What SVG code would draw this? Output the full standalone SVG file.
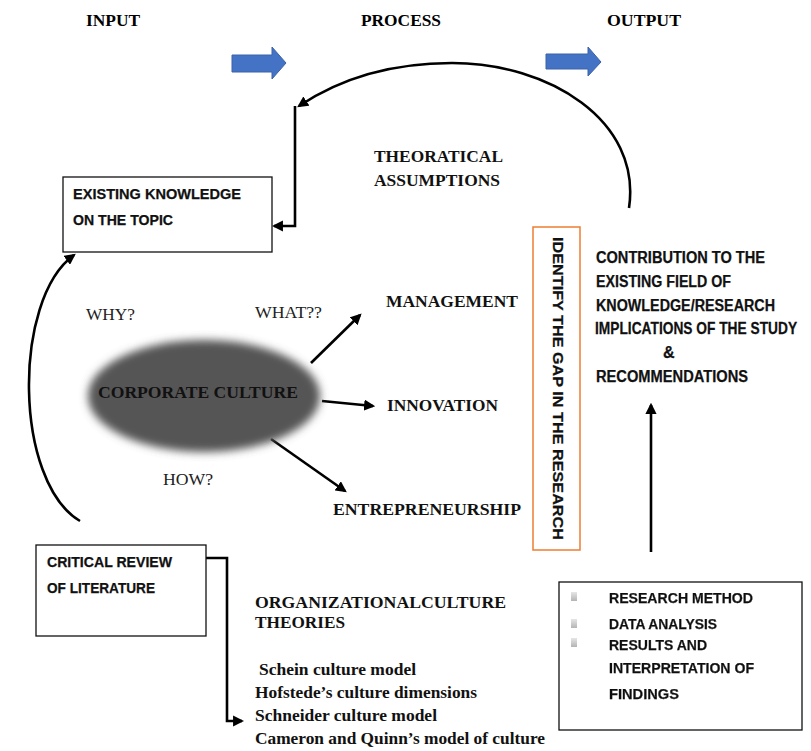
<svg xmlns="http://www.w3.org/2000/svg" width="811" height="751" viewBox="0 0 811 751">
  <style>
    .hdr { font-family: "Liberation Serif", "Times New Roman", serif; font-weight: bold; font-size: 16px; fill: #000; }
    .ser { font-family: "Liberation Serif", "Times New Roman", serif; font-weight: bold; font-size: 17px; fill: #111; }
    .q { font-family: "Liberation Serif", "Times New Roman", serif; font-size: 16px; fill: #222; }
    .san { font-family: "Liberation Sans", Arial, sans-serif; font-weight: bold; font-size: 15px; fill: #111; stroke: #111; stroke-width: 0.25; }
    .san2 { font-family: "Liberation Sans", Arial, sans-serif; font-weight: bold; font-size: 16px; fill: #111; stroke: #111; stroke-width: 0.25; }
    .box { fill: #fff; stroke: #111; stroke-width: 1.3; }
    .conn { fill: none; stroke: #000; stroke-width: 2.6; }
    .blue { fill: #4472C4; stroke: #3a62a8; stroke-width: 1; }
  </style>
  <defs>
    <marker id="ah" viewBox="0 0 10 10" refX="8" refY="5" markerWidth="4.3" markerHeight="4.3" orient="auto" markerUnits="strokeWidth">
      <path d="M0,0 L10,5 L0,10 z" fill="#000"/>
    </marker>
    <filter id="soft" x="-20%" y="-30%" width="140%" height="160%">
      <feGaussianBlur stdDeviation="4"/>
    </filter>
    <filter id="halo" x="-5%" y="-20%" width="110%" height="140%">
      <feGaussianBlur in="SourceAlpha" stdDeviation="0.7" result="b"/>
      <feFlood flood-color="#999"/>
      <feComposite in2="b" operator="in" result="s"/>
      <feMerge><feMergeNode in="s"/><feMergeNode in="SourceGraphic"/></feMerge>
    </filter>
    <linearGradient id="bul" x1="0" y1="0" x2="0" y2="1">
      <stop offset="0" stop-color="#e6e6e6"/>
      <stop offset="1" stop-color="#b4b4b4"/>
    </linearGradient>
  </defs>

  <!-- column headings -->
  <g id="headings">
    <text class="hdr" x="86" y="26" textLength="54" lengthAdjust="spacingAndGlyphs">INPUT</text>
    <text class="hdr" x="361" y="26" textLength="80" lengthAdjust="spacingAndGlyphs">PROCESS</text>
    <text class="hdr" x="607" y="26" textLength="74" lengthAdjust="spacingAndGlyphs">OUTPUT</text>
  </g>

  <!-- block arrows between the columns -->
  <g id="flow-arrows">
    <path class="blue" d="M232,55 H272 V47 L286,63 L272,79 V72 H232 z"/>
    <path class="blue" d="M546,54 H588 V47 L601,62 L588,76 V69 H546 z"/>
  </g>

  <!-- connectors -->
  <g id="connectors">
    <!-- feedback arc from the output back to existing knowledge -->
    <path class="conn" d="M629,208 C642,120 548,63 452,63 C385,63 335,82 299,106" marker-end="url(#ah)"/>
    <path class="conn" d="M295,106 V226 H274" marker-end="url(#ah)"/>
    <!-- literature review feeds existing knowledge -->
    <path class="conn" d="M80,521 C14,482 12,300 74,255" marker-end="url(#ah)"/>
    <!-- corporate culture outcomes -->
    <path class="conn" d="M311,363 L360,315" marker-end="url(#ah)"/>
    <path class="conn" d="M322,401 L373,406" marker-end="url(#ah)"/>
    <path class="conn" d="M271,439 L345,491" marker-end="url(#ah)"/>
    <!-- research steps up to the contribution -->
    <path class="conn" d="M651,552 V405" marker-end="url(#ah)"/>
    <!-- literature review to the theories list -->
    <path class="conn" d="M206,558 H227 V721 H242" marker-end="url(#ah)"/>
  </g>

  <!-- existing knowledge -->
  <g id="existing-knowledge">
    <rect class="box" x="63" y="177" width="209" height="75"/>
    <text class="san" x="73" y="199" textLength="168" lengthAdjust="spacingAndGlyphs">EXISTING KNOWLEDGE</text>
    <text class="san" x="73" y="225" textLength="100" lengthAdjust="spacingAndGlyphs">ON THE TOPIC</text>
  </g>

  <!-- theoretical assumptions -->
  <g id="assumptions">
    <text class="ser" x="374" y="162" textLength="129" lengthAdjust="spacingAndGlyphs">THEORATICAL</text>
    <text class="ser" x="374" y="186" textLength="126" lengthAdjust="spacingAndGlyphs">ASSUMPTIONS</text>
  </g>

  <!-- corporate culture -->
  <g id="corporate-culture">
    <ellipse cx="204" cy="396" rx="116" ry="56" fill="#555" filter="url(#soft)"/>
    <text class="ser" x="98" y="398" textLength="200" lengthAdjust="spacingAndGlyphs" fill="#0a0a0a">CORPORATE CULTURE</text>
  </g>

  <g id="questions">
    <text class="q" x="86" y="320" textLength="49" lengthAdjust="spacingAndGlyphs">WHY?</text>
    <text class="q" x="255" y="318" textLength="67" lengthAdjust="spacingAndGlyphs">WHAT??</text>
    <text class="q" x="163" y="485" textLength="50" lengthAdjust="spacingAndGlyphs">HOW?</text>
  </g>

  <g id="management">
    <text class="ser" x="386" y="307" textLength="132" lengthAdjust="spacingAndGlyphs">MANAGEMENT</text>
  </g>
  <g id="innovation">
    <text class="ser" x="387" y="411" textLength="111" lengthAdjust="spacingAndGlyphs">INNOVATION</text>
  </g>
  <g id="entrepreneurship">
    <text class="ser" x="333" y="515" textLength="188" lengthAdjust="spacingAndGlyphs">ENTREPRENEURSHIP</text>
  </g>

  <!-- research gap -->
  <g id="research-gap">
    <rect x="533" y="227" width="47" height="323" fill="#fff" stroke="#ED7D31" stroke-width="1.5"/>
    <text class="san" transform="translate(553,237) rotate(90)" x="0" y="0" textLength="303" lengthAdjust="spacingAndGlyphs" fill="#222" stroke="#222">IDENTIFY THE  GAP  IN  THE RESEARCH</text>
  </g>

  <!-- contribution -->
  <g id="contribution">
    <text class="san2" x="596" y="263" textLength="169" lengthAdjust="spacingAndGlyphs">CONTRIBUTION TO THE</text>
    <text class="san2" x="596" y="287" textLength="135" lengthAdjust="spacingAndGlyphs">EXISTING FIELD OF</text>
    <text class="san2" x="596" y="311" textLength="179" lengthAdjust="spacingAndGlyphs">KNOWLEDGE/RESEARCH</text>
    <!-- long line: narrowed horizontally so it stays inside the canvas -->
    <text class="san2" transform="translate(595,334) scale(0.86,1)" x="0" y="0">IMPLICATIONS OF THE STUDY</text>
    <text class="san2" x="663" y="358">&amp;</text>
    <text class="san2" x="596" y="382" textLength="152" lengthAdjust="spacingAndGlyphs">RECOMMENDATIONS</text>
  </g>

  <!-- critical review of literature -->
  <g id="critical-review">
    <rect class="box" x="36" y="545" width="170" height="91"/>
    <text class="san" x="47" y="567" textLength="125" lengthAdjust="spacingAndGlyphs">CRITICAL REVIEW</text>
    <text class="san" x="47" y="593" textLength="108" lengthAdjust="spacingAndGlyphs">OF LITERATURE</text>
  </g>

  <!-- organizational culture theories -->
  <g id="theories">
    <text class="ser" x="255" y="608" textLength="251" lengthAdjust="spacingAndGlyphs">ORGANIZATIONALCULTURE</text>
    <text class="ser" x="255" y="628" textLength="90" lengthAdjust="spacingAndGlyphs">THEORIES</text>
    <text class="ser" x="259" y="675" textLength="157" lengthAdjust="spacingAndGlyphs">Schein culture model</text>
    <text class="ser" x="255" y="698" textLength="222" lengthAdjust="spacingAndGlyphs">Hofstede’s culture dimensions</text>
    <text class="ser" x="255" y="721" textLength="182" lengthAdjust="spacingAndGlyphs">Schneider culture model</text>
    <text class="ser" x="255" y="744" textLength="290" lengthAdjust="spacingAndGlyphs">Cameron and Quinn’s model of culture</text>
  </g>

  <!-- research steps -->
  <g id="research-steps">
    <rect class="box" x="559" y="582" width="243" height="148"/>
    <rect x="571" y="592" width="6" height="9" fill="url(#bul)"/>
    <rect x="571" y="619" width="6" height="9" fill="url(#bul)"/>
    <rect x="571" y="638" width="6" height="9" fill="url(#bul)"/>
    <g filter="url(#halo)">
      <text class="san" x="609" y="603" textLength="144" lengthAdjust="spacingAndGlyphs">RESEARCH METHOD</text>
      <text class="san" x="609" y="629" textLength="108" lengthAdjust="spacingAndGlyphs">DATA ANALYSIS</text>
      <text class="san" x="609" y="650" textLength="98" lengthAdjust="spacingAndGlyphs">RESULTS AND</text>
      <text class="san" x="609" y="673" textLength="145" lengthAdjust="spacingAndGlyphs">INTERPRETATION OF</text>
      <text class="san" x="609" y="699" textLength="70" lengthAdjust="spacingAndGlyphs">FINDINGS</text>
    </g>
  </g>
</svg>
